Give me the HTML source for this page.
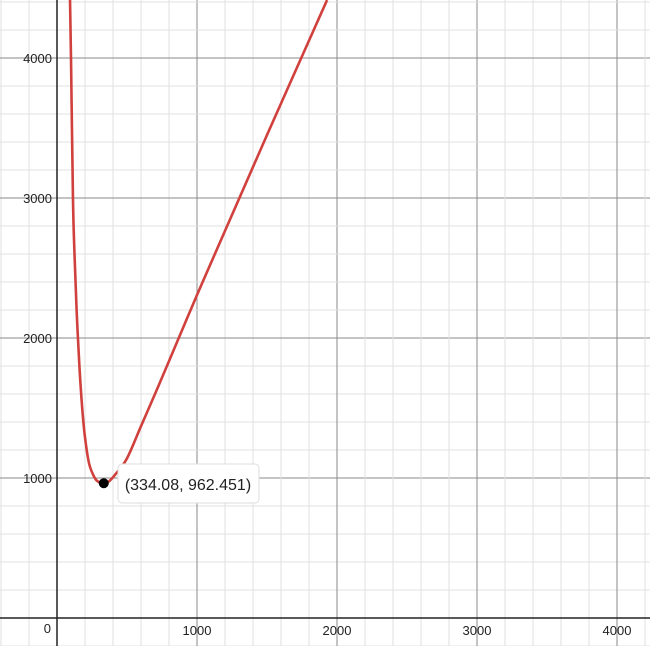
<!DOCTYPE html>
<html><head><meta charset="utf-8"><style>
body{margin:0;background:#fff;}
svg{display:block;font-family:"Liberation Sans",Arial,sans-serif;}
</style></head><body>
<svg id="c" width="650" height="646"></svg>
<script>
const xTicks=[1000,2000,3000,4000];
const yTicks=[1000,2000,3000,4000];
const curveX=[93,100,114,125,140,160,180,200,230,270,300,334.08,370,420,500,600,700,800,1000,1200,1500,1929];
const curveY=[4414,4000,3000,2600,2200,1800,1500,1290,1100,1000,970,962.451,975,1030,1140,1370,1600,1835,2307,2765,3450,4414];
const minPoint=[334.08,962.451];
const ox=57,oy=618,k=0.14;
const sx=v=>ox+v*k, sy=v=>oy-v*k;
const svg=document.getElementById('c');
const NS='http://www.w3.org/2000/svg';
function mk(t,a,p){const e=document.createElementNS(NS,t);for(const n in a)e.setAttribute(n,a[n]);(p||svg).appendChild(e);return e;}
const grid=mk('g',{});


for(let v=-400;v<=4800;v+=200){
  const major=v%1000===0;
  const x=sx(v); if(x>=0&&x<=650){mk('line',{x1:x,y1:0,x2:x,y2:646,stroke:major?'#8a8a8a':'#e0e0e0','stroke-width':1},grid);}
  const y=sy(v); if(y>=0&&y<=646){mk('line',{x1:0,y1:y,x2:650,y2:y,stroke:major?'#8a8a8a':'#e0e0e0','stroke-width':1},grid);}
}
const xa=mk('line',{x1:0,y1:oy,x2:650,y2:oy,stroke:'#222','stroke-width':1.5});


const ya=mk('line',{x1:ox,y1:0,x2:ox,y2:646,stroke:'#222','stroke-width':1.5});


xTicks.forEach(v=>{const t=mk('text',{x:sx(v),y:635,'text-anchor':'middle','font-size':13,fill:'#222'});t.textContent=v;

});
yTicks.forEach(v=>{const t=mk('text',{x:52,y:sy(v)+5,'text-anchor':'end','font-size':13,fill:'#222'});t.textContent=v;

});
const z=mk('text',{x:51,y:633,'text-anchor':'end','font-size':13,fill:'#222'});z.textContent='0';


const P=curveX.map((x,i)=>[sx(x),sy(curveY[i])]);
let d='M'+P[0][0]+','+P[0][1];
for(let i=0;i<P.length-1;i++){const p0=P[Math.max(0,i-1)],p1=P[i],p2=P[i+1],p3=P[Math.min(P.length-1,i+2)];
d+=` C${p1[0]+(p2[0]-p0[0])/6},${p1[1]+(p2[1]-p0[1])/6} ${p2[0]-(p3[0]-p1[0])/6},${p2[1]-(p3[1]-p1[1])/6} ${p2[0]},${p2[1]}`;}
const cv=mk('path',{d:d,fill:'none',stroke:'#d0403c','stroke-width':2.6,'stroke-linejoin':'round'});


const mp=mk('circle',{cx:sx(minPoint[0]),cy:sy(minPoint[1]),r:5,fill:'#000'});


const g=mk('g',{});


mk('rect',{x:118,y:464,width:141,height:39,rx:4,fill:'#fff',stroke:'#ddd','stroke-width':1},g);
const lt=mk('text',{x:188,y:490,'text-anchor':'middle','font-size':16,fill:'#222'},g);
lt.textContent='('+minPoint[0]+', '+minPoint[1]+')';
</script>
</body></html>
